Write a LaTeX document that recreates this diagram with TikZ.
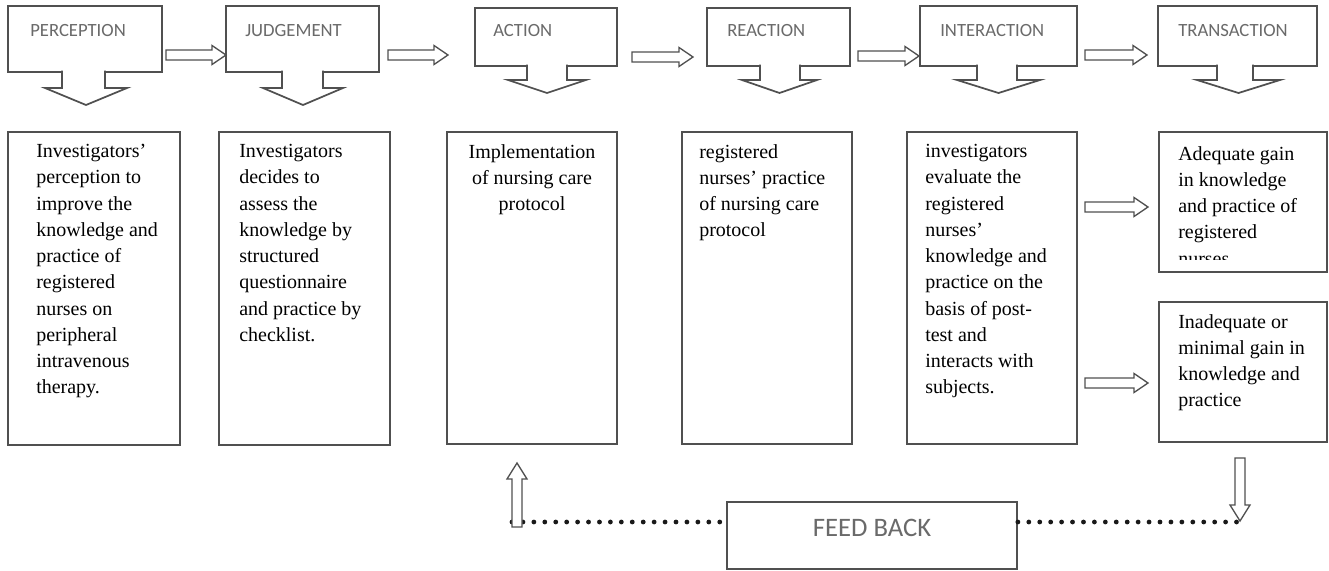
\documentclass[tikz,border=0pt]{standalone}
\usepackage{fontspec}
\setmainfont{Liberation Serif}
\newfontfamily\hfont{Carlito}
\usetikzlibrary{fit,calc}
\definecolor{edge}{HTML}{505050}
\definecolor{htxt}{HTML}{6A6A6A}
\tikzset{
  box/.style={draw=edge, line width=1.3pt, inner sep=0pt, fill=white},
  blk/.style={draw=edge, line width=1pt, fill=white, line join=miter},
  htext/.style={font=\hfont\fontsize{14}{17}\selectfont, text=htxt, inner sep=0pt, anchor=west},
  btext/.style={font=\fontsize{15}{19.7}\selectfont, inner sep=0pt, align=left, anchor=north west, text=black},
  dotline/.style={line width=3.6pt, dash pattern=on 0pt off 8.2pt, line cap=round, draw=black!90}
}
% callout: sL sR hL hR ybottom yshoulder ytip
\newcommand\callout[7]{\draw[box] (#1,#5-1.5) -- (#1,#6) -- (#3,#6) -- ({(#3+#4)/2},#7) -- (#4,#6) -- (#2,#6) -- (#2,#5-1.5);}
% horizontal block arrow: start name, end name
\newcommand\harr[2]{\draw[blk] ($(#1)+(0,-5)$) -- ($(#2)+(-14,-5)$) -- ($(#2)+(-14,-9.5)$) -- (#2) -- ($(#2)+(-14,9.5)$) -- ($(#2)+(-14,5)$) -- ($(#1)+(0,5)$) -- cycle;}
% vertical block arrow: tail name, tip name, direction (+1 down, -1 up)
\newcommand\varr[3]{\draw[blk] ($(#1)+(-5,0)$) -- ($(#2)+(-5,-16*#3)$) -- ($(#2)+(-10,-16*#3)$) -- (#2) -- ($(#2)+(10,-16*#3)$) -- ($(#2)+(5,-16*#3)$) -- ($(#1)+(5,0)$) -- cycle;}
\begin{document}
\begin{tikzpicture}[x=0.75pt,y=-0.75pt]
\useasboundingbox (0,0) rectangle (1329,571);

% header boxes
\node[box, fit={(8,6) (162,72)}] (h1) {};
\node[box, fit={(226,6) (379,72)}] (h2) {};
\node[box, fit={(475,8) (617,66)}] (h3) {};
\node[box, fit={(707,8) (850,66)}] (h4) {};
\node[box, fit={(920,6) (1077,66)}] (h5) {};
\node[box, fit={(1158,6) (1317,66)}] (h6) {};

\callout{62}{105}{45}{127}{72}{88}{105}
\callout{282}{323}{263}{343}{72}{88}{105}
\callout{527}{567}{508}{586}{66}{80}{93}
\callout{760}{800}{742}{817}{66}{80}{93}
\callout{977}{1017}{957}{1040}{66}{80}{93}
\callout{1217}{1253}{1197}{1280}{66}{80}{93}

\node[htext] (l1) at (30,31) {PERCEPTION};
\node[htext] (l2) at (245,31) {JUDGEMENT};
\node[htext] (l3) at (493,31) {ACTION};
\node[htext] (l4) at (727,31) {REACTION};
\node[htext] (l5) at (940,31) {INTERACTION};
\node[htext] (l6) at (1178,31) {TRANSACTION};

% header arrows
\coordinate (a1s) at (166,55); \coordinate (a1e) at (226,55);
\coordinate (a2s) at (388,55); \coordinate (a2e) at (448,55);
\coordinate (a3s) at (632,57); \coordinate (a3e) at (693,57);
\coordinate (a4s) at (858,56); \coordinate (a4e) at (919,56);
\coordinate (a5s) at (1085,55); \coordinate (a5e) at (1147,55);
\harr{a1s}{a1e}
\harr{a2s}{a2e}
\harr{a3s}{a3e}
\harr{a4s}{a4e}
\harr{a5s}{a5e}

% lower boxes
\node[box, fit={(8,132) (180,445)}] (b1) {};
\node[box, fit={(219,132) (390,445)}] (b2) {};
\node[box, fit={(447,132) (617,444)}] (b3) {};
\node[box, fit={(682,132) (852,444)}] (b4) {};
\node[box, fit={(907,132) (1077,444)}] (b5) {};
\node[box, fit={(1159,132) (1327,272)}] (b6) {};
\node[box, fit={(1159,302) (1327,442)}] (b7) {};

\node[btext] (t1) at (36,144) {Investigators’\\perception to\\improve the\\knowledge and\\practice of\\registered\\nurses on\\peripheral\\intravenous\\therapy.};
\node[btext] (t2) at (239,144) {Investigators\\decides to\\assess the\\knowledge by\\structured\\questionnaire\\and practice by\\checklist.};
\node[btext, anchor=north, align=center] (t3) at (532,144) {Implementation\\of nursing care\\protocol};
\node[btext] (t4) at (699,144) {registered\\nurses’ practice\\of nursing care\\protocol};
\node[btext] (t5) at (925,144) {investigators\\evaluate the\\registered\\nurses’\\knowledge and\\practice on the\\basis of post-\\test and\\interacts with\\subjects.};
\begin{scope}
\clip (1162,135) rectangle (1324,259);
\node[btext] (t6) at (1178,146) {Adequate gain\\in knowledge\\and practice of\\registered\\nurses};
\end{scope}
\node[btext] (t7) at (1178,314) {Inadequate or\\minimal gain in\\knowledge and\\practice};

% arrows to outcomes
\coordinate (o1s) at (1085,207); \coordinate (o1e) at (1148,207);
\coordinate (o2s) at (1085,383); \coordinate (o2e) at (1148,383);
\harr{o1s}{o1e}
\harr{o2s}{o2e}

% feedback
\node[box, fit={(727,502) (1017,569)}] (fb) {};
\node[font=\hfont\fontsize{20}{24}\selectfont, text=htxt, inner sep=0pt] (fbt) at (872,528) {FEED BACK};

\coordinate (dl) at (512,522);
\coordinate (dr) at (1238,522);
\draw[dotline] (dl) -- (dl -| fb.west);
\draw[dotline] (fb.east |- dr) -- (dr);

\coordinate (upt) at (517,527); \coordinate (uph) at (517,463);
\varr{upt}{uph}{-1}
\coordinate (dnt) at (1240,458); \coordinate (dnh) at (1240,521);
\varr{dnt}{dnh}{1}
\end{tikzpicture}
\end{document}
